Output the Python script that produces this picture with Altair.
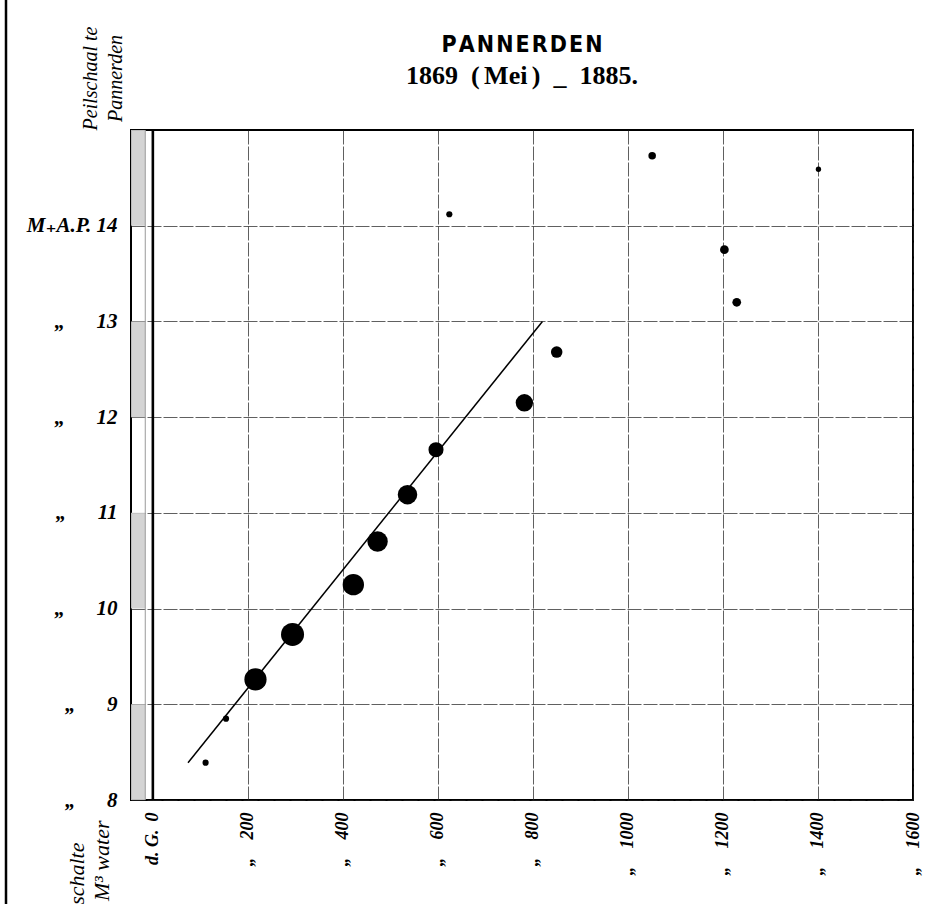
import altair as alt
import pandas as pd

# Waarnemingen: afvoer (M³ water per sec.) tegen waterstand op de peilschaal (M + A.P.)
afvoer = [111, 154, 216, 294, 422, 473, 536, 596, 782, 850, 624, 1051, 1401, 1203, 1229]
peil = [8.39, 8.85, 9.26, 9.73, 10.25, 10.70, 11.19, 11.66, 12.15, 12.68, 14.12, 14.73, 14.59, 13.75, 13.20]
aantal = [1, 1, 13, 14, 12, 11, 10, 6, 8, 3.5, 1, 1.5, 0.75, 2, 2]

# Getrokken afvoerlijn
lijn_afvoer = [74, 820]
lijn_peil = [8.39, 13.0]

# Gearceerde meters van de peilschaal
schaal_van = [8, 10, 12, 14]
schaal_tot = [9, 11, 13, 15]

x_ticks = [0, 200, 400, 600, 800, 1000, 1200, 1400, 1600]
y_ticks = [8, 9, 10, 11, 12, 13, 14]

punten = pd.DataFrame({"afvoer": afvoer, "peil": peil, "aantal": aantal})
lijn = pd.DataFrame({"afvoer": lijn_afvoer, "peil": lijn_peil})
schaal = pd.DataFrame({"van": schaal_van, "tot": schaal_tot, "links": [-46] * 4, "rechts": [-16] * 4})
nullijn = pd.DataFrame({"afvoer": [0]})

SERIF = "Liberation Serif, DejaVu Serif, serif"

x_scale = alt.Scale(domain=[-46, 1600], nice=False, zero=False)
y_scale = alt.Scale(domain=[8, 15], nice=False, zero=False)

x_axis = alt.Axis(
    values=x_ticks,
    labelExpr="datum.value == 0 ? 'd. G.\u2009 0' : '\u201e\u2003' + datum.value",
    labelAngle=270,
    labelFont=SERIF,
    labelFontStyle="italic",
    labelFontWeight="bold",
    labelFontSize=18,
    labelColor="black",
    labelPadding=12,
    ticks=False,
    domain=False,
    grid=True,
    gridColor="#222",
    gridWidth=0.9,
    gridDash=[14, 2],
    gridOpacity=0.8,
    title=["schalte\u2003\u200b", "M³ water"],
    titleAngle=270,
    titleFont=SERIF,
    titleFontStyle="italic",
    titleFontWeight="normal",
    titleFontSize=22,
    titleLineHeight=25,
    titleColor="black",
    titleAlign="right",
    titleBaseline="middle",
    titleX=-55,
    titleY=20,
)

y_axis = alt.Axis(
    values=y_ticks,
    labelExpr="datum.value == 14 ? 'M\u208aA.P. 14' : '\u201e\u2003\u2002' + datum.value",
    labelFont=SERIF,
    labelFontStyle="italic",
    labelFontWeight="bold",
    labelFontSize=21,
    labelColor="black",
    labelPadding=14,
    ticks=False,
    domain=False,
    grid=True,
    gridColor="#222",
    gridWidth=0.9,
    gridDash=[14, 2],
    gridOpacity=0.8,
    title=["Peilschaal te", "Pannerden"],
    titleAngle=270,
    titleFont=SERIF,
    titleFontStyle="italic",
    titleFontWeight="normal",
    titleFontSize=20,
    titleLineHeight=25,
    titleColor="black",
    titleAlign="center",
    titleBaseline="middle",
    titleX=-41,
    titleY=-52,
)

strook = alt.Chart(schaal).mark_rect(color="#cfcfcf", opacity=0.9).encode(
    x=alt.X("links:Q", scale=x_scale, axis=x_axis),
    x2="rechts:Q",
    y=alt.Y("van:Q", scale=y_scale, axis=y_axis),
    y2="tot:Q",
)

strookrand = alt.Chart(nullijn).mark_rule(color="#999", strokeWidth=1).encode(
    x=alt.datum(-16, scale=x_scale, axis=x_axis),
    y=alt.value(0),
    y2=alt.value(670),
)

nul = alt.Chart(nullijn).mark_rule(color="black", strokeWidth=2.6).encode(
    x=alt.X("afvoer:Q", scale=x_scale, axis=x_axis),
    y=alt.value(0),
    y2=alt.value(670),
)

kantlijn = alt.Chart(nullijn).mark_rule(color="black", strokeWidth=2.5).encode(
    x=alt.value(-125),
    y=alt.value(-130),
    y2=alt.value(774),
)

afvoerlijn = alt.Chart(lijn).mark_line(color="black", strokeWidth=1.5).encode(
    x=alt.X("afvoer:Q", scale=x_scale, axis=x_axis),
    y=alt.Y("peil:Q", scale=y_scale, axis=y_axis),
)

stippen = alt.Chart(punten).mark_circle(color="black", opacity=1).encode(
    x=alt.X("afvoer:Q", scale=x_scale, axis=x_axis),
    y=alt.Y("peil:Q", scale=y_scale, axis=y_axis),
    size=alt.Size("aantal:Q", scale=alt.Scale(domain=[0, 14], range=[0, 530]), legend=None),
)

chart = (
    alt.layer(strook, strookrand, nul, kantlijn, afvoerlijn, stippen)
    .properties(
        width=782,
        height=670,
        autosize=alt.AutoSizeParams(type="none"),
        padding={"left": 131, "top": 130, "right": 17, "bottom": 104},
        title=alt.Title(
            text="P\u200aA\u200aN\u200aN\u200aE\u200aR\u200aD\u200aE\u200aN",
            subtitle="1869\u2002(\u2006Mei\u2006)\u2002_\u20021885.",
            anchor="middle",
            frame="group",
            font="DejaVu Sans Condensed, Liberation Sans Narrow, Liberation Sans, sans-serif",
            fontSize=23,
            fontWeight="bold",
            color="black",
            subtitleFont=SERIF,
            subtitleFontSize=26,
            subtitleFontWeight="bold",
            subtitleColor="black",
            subtitlePadding=6,
            offset=-90,
        ),
        background="white",
    )
    .configure_view(stroke="black", strokeWidth=2)
)

chart.save("out.html", embed_options={"renderer": "svg", "actions": False})
